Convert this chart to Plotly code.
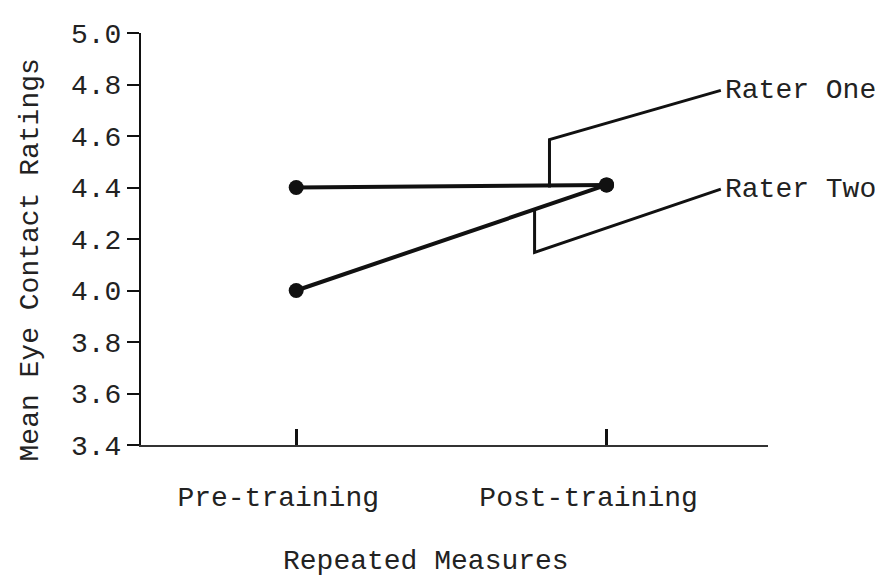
import plotly.graph_objects as go

# ---- data ----
phases = ["Pre-training", "Post-training"]
phase_pos = [0, 1]
rater_one = [4.40, 4.41]
rater_two = [4.00, 4.41]
y_ticks = [3.4, 3.6, 3.8, 4.0, 4.2, 4.4, 4.6, 4.8, 5.0]
series_names = ["Rater One", "Rater Two"]

FONT = "Liberation Mono"
INK = "#111111"
TXT = "#222222"

fig = go.Figure()
for name, vals in zip(series_names, [rater_one, rater_two]):
    fig.add_trace(go.Scatter(
        x=phase_pos, y=vals, mode="lines+markers", name=name,
        line=dict(color=INK, width=4),
        marker=dict(color=INK, size=15),
        showlegend=False,
    ))

# leader lines from each series to its label (layout decoration)
label_x = 1.368
leaders = [
    # (x of vertical stub, y where stub starts on line, y of stub end, label y)
    (0.816, 4.40, 4.586, 4.777),
    (0.768, 4.00 + 0.768 * (rater_two[1] - rater_two[0]), 4.148, 4.394),
]
for (sx, y0, y1, ly), name in zip(leaders, series_names):
    fig.add_trace(go.Scatter(
        x=[sx, sx, label_x], y=[y0, y1, ly], mode="lines",
        line=dict(color=INK, width=3), hoverinfo="skip", showlegend=False,
    ))
    fig.add_annotation(x=label_x, y=ly, xref="x", yref="y", text=name,
                       showarrow=False, xanchor="left", yanchor="middle",
                       xshift=2,
                       font=dict(family=FONT, size=28, color=TXT))

# axis titles as annotations
fig.add_annotation(x=-0.177, y=0.448, xref="paper", yref="paper",
                   text="Mean Eye Contact Ratings", textangle=-90,
                   showarrow=False, xanchor="center", yanchor="middle",
                   font=dict(family=FONT, size=28, color=TXT))
fig.add_annotation(x=0.455, y=-0.282, xref="paper", yref="paper",
                   text="Repeated Measures", showarrow=False,
                   xanchor="center", yanchor="middle",
                   font=dict(family=FONT, size=28, color=TXT))

fig.update_layout(
    width=883, height=579,
    margin=dict(l=133, r=123, t=20, b=142),
    paper_bgcolor="white", plot_bgcolor="white",
    font=dict(family=FONT, size=28, color=TXT),
    xaxis=dict(
        range=[-0.5, 1.52], tickmode="array", tickvals=phase_pos, ticktext=phases,
        ticks="inside", ticklen=16, tickwidth=3, tickcolor=INK,
        showline=True, linecolor="#333333", linewidth=2,
        showgrid=False, zeroline=False,
        ticklabelstandoff=25, ticklabelshift=-18,
        tickfont=dict(family=FONT, size=28, color=TXT),
    ),
    yaxis=dict(
        range=[3.4, 5.0], tickmode="array", tickvals=y_ticks,
        ticktext=[f"{v:.1f}" for v in y_ticks],
        ticks="outside", ticklen=12, tickwidth=2, tickcolor=INK,
        showline=True, linecolor=INK, linewidth=2,
        showgrid=False, zeroline=False,
        tickfont=dict(family=FONT, size=28, color=TXT),
    ),
)

fig.write_html("out.html")
